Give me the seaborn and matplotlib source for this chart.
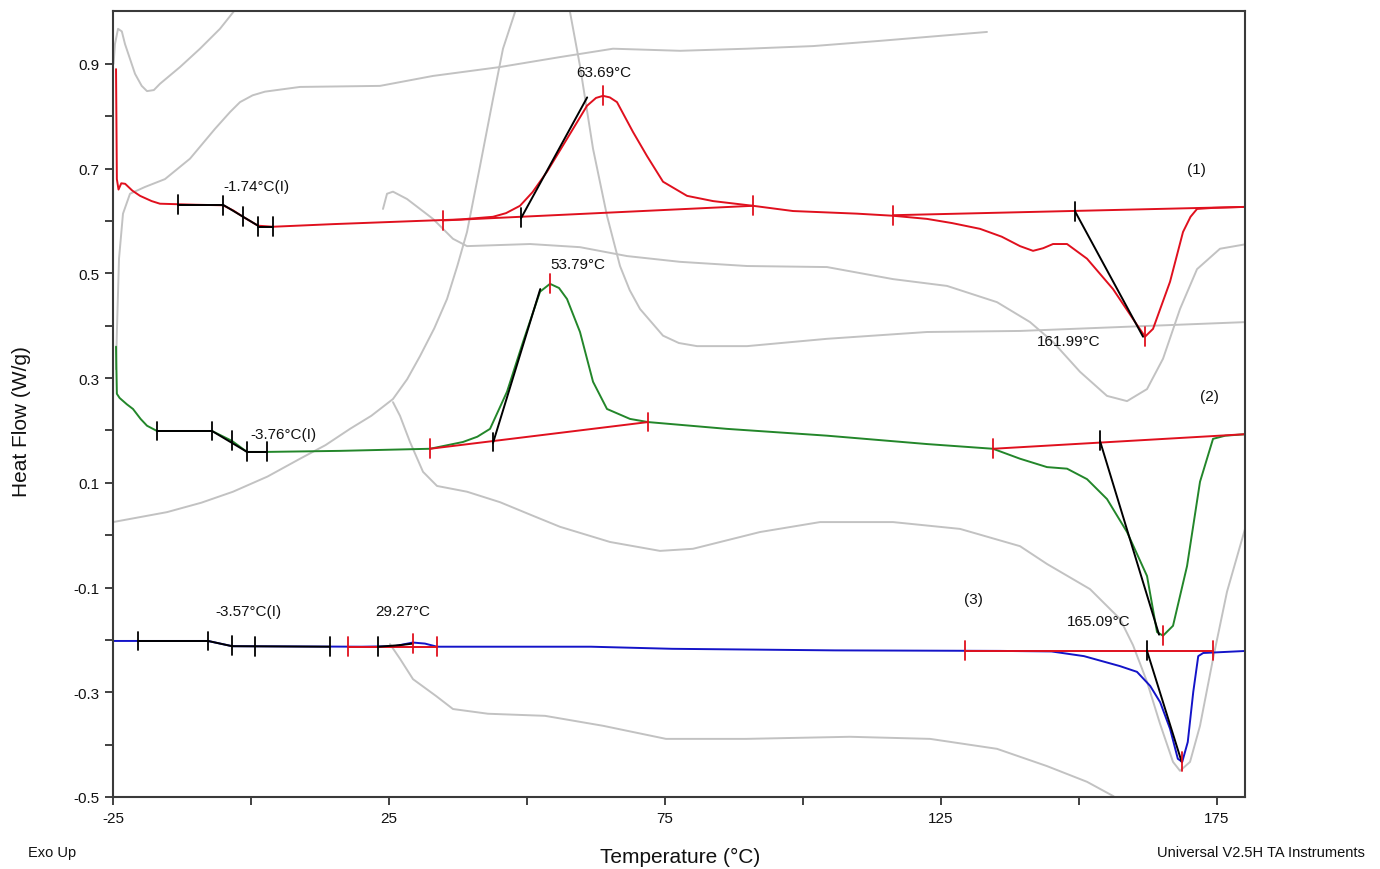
import numpy as np
import pandas as pd
import matplotlib
matplotlib.use("Agg")
import matplotlib.pyplot as plt
import seaborn as sns

# ---------------- data ----------------
# sample (1) - red
red_x = [-24.45, -24.3, -24.0, -23.5, -22.8, -21.5, -20.1, -18.0, -16.5, -10.0, -5.07, -3.2, -1.45,
         1.27, 3.99, 14.86, 30.07, 38.0, 43.84, 46.2, 48.73, 51.0, 53.62, 57.25, 60.87, 62.5, 63.77,
         65.0, 66.3, 69.2, 71.74, 74.64, 78.99, 83.7, 90.94, 98.19, 109.78, 116.3, 122.46, 127.0,
         132.07, 136.0, 139.31, 141.67, 143.5, 145.29, 147.83, 151.45, 156.16, 159.78, 161.96,
         163.41, 166.49, 168.84, 170.2, 171.38, 174.28, 180.4]
red_y = [0.89, 0.68, 0.66, 0.672, 0.671, 0.658, 0.648, 0.638, 0.633, 0.631, 0.630, 0.620, 0.608,
         0.591, 0.589, 0.594, 0.600, 0.603, 0.608, 0.615, 0.629, 0.655, 0.694, 0.757, 0.820, 0.835,
         0.839, 0.836, 0.827, 0.770, 0.724, 0.675, 0.648, 0.638, 0.629, 0.619, 0.614, 0.610, 0.604,
         0.596, 0.585, 0.570, 0.552, 0.543, 0.548, 0.556, 0.556, 0.528, 0.470, 0.413, 0.379,
         0.394, 0.484, 0.579, 0.608, 0.623, 0.625, 0.627]

# sample (2) - green
green_x = [-24.45, -24.3, -23.8, -22.5, -21.38, -20.0, -18.84, -17.03, -7.07, -3.44, -0.72, 2.9,
           16.12, 32.43, 38.41, 41.0, 43.3, 46.38, 49.28, 52.36, 54.17, 55.8, 57.25, 59.6, 61.96,
           64.49, 68.66, 71.92, 86.23, 104.35, 122.46, 134.42, 139.31, 144.2, 147.83, 151.45,
           155.07, 158.7, 162.32, 164.13, 165.22, 167.03, 169.57, 171.92, 174.28, 176.5, 180.4]
green_y = [0.36, 0.27, 0.262, 0.25, 0.241, 0.222, 0.209, 0.199, 0.199, 0.180, 0.159, 0.159,
           0.161, 0.165, 0.178, 0.188, 0.203, 0.274, 0.369, 0.465, 0.480, 0.472, 0.451, 0.388, 0.293,
           0.241, 0.222, 0.216, 0.203, 0.190, 0.174, 0.165, 0.146, 0.130, 0.127, 0.107,
           0.069, 0.006, -0.078, -0.185, -0.192, -0.173, -0.059, 0.102, 0.184, 0.190, 0.193]

# sample (3) - blue
blue_x = [-25.0, -7.8, -3.4, 20.0, 26.0, 29.3, 31.5, 33.7, 61.6, 76.3, 105.8, 135.7, 145.0,
          150.9, 157.4, 160.5, 162.9, 164.7, 166.5, 167.9, 168.7, 169.7, 170.7, 171.6, 172.5, 180.4]
blue_y = [-0.202, -0.202, -0.212, -0.213, -0.212, -0.205, -0.207, -0.213, -0.213, -0.217, -0.220,
          -0.221, -0.222, -0.231, -0.250, -0.261, -0.288, -0.319, -0.370, -0.427, -0.433, -0.395,
          -0.299, -0.231, -0.225, -0.221]

# background (grey) traces
gray_a_x = [-24.9, -24.64, -24.09, -23.4, -22.83, -21.01, -19.8, -18.84, -17.6, -16.49, -12.86,
            -9.24, -5.62, -2.0]
gray_a_y = [0.90, 0.938, 0.967, 0.962, 0.938, 0.881, 0.858, 0.848, 0.850, 0.862, 0.894,
            0.929, 0.967, 1.015]

gray_b_x = [-24.46, -24.28, -23.91, -23.19, -21.92, -19.2, -15.58, -11.05, -6.52, -3.8, -1.99,
            0.3, 2.54, 8.88, 23.37, 32.97, 45.11, 55.98, 65.58, 77.72, 89.86, 101.81, 113.95, 133.33]
gray_b_y = [0.317, 0.394, 0.528, 0.614, 0.652, 0.665, 0.680, 0.719, 0.776, 0.808, 0.827,
            0.840, 0.847, 0.856, 0.858, 0.877, 0.894, 0.913, 0.929, 0.925, 0.929, 0.934, 0.944, 0.961]

gray_c_x = [-25.0, -15.22, -9.0, -3.26, 3.0, 8.88, 13.5, 17.93, 21.8, 25.72, 28.3, 30.62, 33.2,
            35.51, 37.4, 39.13, 41.49, 43.84, 45.65, 47.83, 52.8, 57.79, 59.6, 61.96, 64.49, 66.85,
            68.6, 70.47, 74.64, 77.5, 80.8, 89.86, 104.35, 122.46, 139.31, 180.4]
gray_c_y = [0.025, 0.044, 0.062, 0.083, 0.112, 0.146, 0.172, 0.203, 0.228, 0.260, 0.298, 0.342,
            0.395, 0.451, 0.515, 0.579, 0.705, 0.833, 0.929, 0.999, 1.10, 0.999, 0.896, 0.738,
            0.610, 0.514, 0.468, 0.432, 0.381, 0.367, 0.361, 0.361, 0.375, 0.388, 0.390, 0.407]

gray_d_x = [23.91, 24.64, 25.72, 28.26, 32.97, 36.59, 39.13, 50.54, 59.6, 68.12, 77.72, 89.86,
            104.35, 116.3, 126.09, 135.14, 141.12, 145.29, 150.18, 155.07, 158.7, 162.32, 165.22,
            168.3, 171.38, 175.54, 180.43]
gray_d_y = [0.623, 0.652, 0.656, 0.642, 0.604, 0.566, 0.552, 0.556, 0.550, 0.533, 0.522, 0.514,
            0.512, 0.489, 0.476, 0.445, 0.407, 0.369, 0.312, 0.266, 0.256, 0.279, 0.337,
            0.432, 0.508, 0.547, 0.556]

gray_f_x = [25.72, 26.99, 28.8, 31.16, 33.7, 39.13, 45.11, 51.09, 55.98, 65.04, 74.09, 80.07,
            92.21, 103.08, 116.3, 128.44, 139.31, 144.2, 151.99, 157.43, 159.78, 162.32, 164.67,
            167.03, 168.3, 170.11, 171.92, 174.28, 176.81, 180.07]
gray_f_y = [0.254, 0.228, 0.178, 0.121, 0.094, 0.083, 0.063, 0.037, 0.016, -0.013, -0.030,
            -0.026, 0.006, 0.025, 0.025, 0.012, -0.021, -0.055, -0.103, -0.160, -0.210, -0.280,
            -0.360, -0.433, -0.450, -0.433, -0.364, -0.236, -0.108, 0.012]

gray_g_x = [25.18, 26.99, 29.35, 33.51, 36.59, 42.93, 53.26, 63.77, 75.18, 89.67, 108.51, 123.01,
            135.14, 144.2, 151.45, 156.16, 158.3]
gray_g_y = [-0.208, -0.236, -0.275, -0.307, -0.332, -0.341, -0.345, -0.364, -0.389, -0.389,
            -0.385, -0.389, -0.408, -0.441, -0.471, -0.498, -0.513]

# analysis construction lines (x0, y0, x1, y1)
black_segments = [(-13.3, 0.631, -5.07, 0.631), (-5.07, 0.631, 1.27, 0.591), (1.27, 0.589, 3.99, 0.589),
                  (48.9, 0.605, 60.9, 0.836), (149.3, 0.618, 161.6, 0.379),
                  (-17.03, 0.199, -7.07, 0.199), (-7.07, 0.199, -0.72, 0.159), (-0.72, 0.159, 2.9, 0.159),
                  (43.84, 0.176, 52.4, 0.47), (153.8, 0.180, 164.5, -0.19),
                  (-20.47, -0.202, -7.79, -0.202), (-7.79, -0.202, -3.44, -0.212),
                  (-3.44, -0.212, 14.31, -0.213), (23.01, -0.213, 27.0, -0.210),
                  (27.0, -0.210, 29.35, -0.207), (162.32, -0.221, 168.6, -0.433)]
red_segments = [(34.78, 0.601, 90.94, 0.629), (116.3, 0.611, 180.4, 0.627),
                (32.43, 0.165, 71.92, 0.216), (134.42, 0.165, 180.4, 0.193),
                (17.57, -0.213, 33.7, -0.213), (129.35, -0.221, 174.28, -0.221)]
black_ticks = [(-13.3, 0.631), (-5.07, 0.630), (-1.45, 0.609), (1.27, 0.590), (3.99, 0.589),
               (48.9, 0.606), (149.3, 0.618),
               (-17.03, 0.199), (-7.07, 0.199), (-3.44, 0.180), (-0.72, 0.159), (2.9, 0.159),
               (43.84, 0.178), (153.8, 0.181),
               (-20.47, -0.202), (-7.79, -0.202), (-3.44, -0.210), (0.72, -0.212), (14.31, -0.213),
               (23.01, -0.213), (162.32, -0.221)]
red_ticks = [(34.78, 0.601), (63.77, 0.839), (90.94, 0.629), (116.3, 0.611), (161.96, 0.379),
             (32.43, 0.165), (54.17, 0.480), (71.92, 0.216), (134.42, 0.165), (165.22, -0.192),
             (17.57, -0.213), (29.35, -0.207), (33.7, -0.213), (129.35, -0.221), (174.28, -0.221),
             (168.7, -0.433)]

annot_x = [58.9, -5.07, 54.2, -0.18, 142.4, 147.8, -6.5, 22.46, 169.6, 171.9, 129.2]
annot_y = [0.885, 0.667, 0.518, 0.193, 0.371, -0.164, -0.145, -0.145, 0.699, 0.266, -0.122]
annot_text = ["63.69°C", "-1.74°C(I)", "53.79°C", "-3.76°C(I)", "161.99°C", "165.09°C",
              "-3.57°C(I)", "29.27°C", "(1)", "(2)", "(3)"]

x_ticks = [-25, 25, 75, 125, 175]
x_minor = [0, 50, 100, 150]
y_ticks = [-0.5, -0.3, -0.1, 0.1, 0.3, 0.5, 0.7, 0.9]
y_tick_labels = ["-0.5", "-0.3", "-0.1", "0.1", "0.3", "0.5", "0.7", "0.9"]
y_minor = [-0.4, -0.2, 0.0, 0.2, 0.4, 0.6, 0.8]

# ---------------- styling ----------------
sns.set_theme(style="white")
plt.rcParams['font.family'] = ['Liberation Sans', 'DejaVu Sans']

RED = "#e0101e"
GREEN = "#23862a"
BLUE = "#1414c8"
GREY = "#c2c2c2"

fig = plt.figure(figsize=(13.8, 8.7), dpi=100)
ax = fig.add_axes([113 / 1380, 72 / 870, 1132 / 1380, 786 / 870])


def frame(name, xs, ys):
    return pd.DataFrame({"T": xs, "HF": ys, "curve": name})


gray_df = pd.concat([frame("a", gray_a_x, gray_a_y), frame("b", gray_b_x, gray_b_y),
                     frame("c", gray_c_x, gray_c_y), frame("d", gray_d_x, gray_d_y),
                     frame("f", gray_f_x, gray_f_y), frame("g", gray_g_x, gray_g_y)],
                    ignore_index=True)
sns.lineplot(data=gray_df, x="T", y="HF", hue="curve",
             palette={k: GREY for k in "abcdfg"}, sort=False, estimator=None,
             legend=False, lw=1.4, ax=ax)

col_df = pd.concat([frame("(1)", red_x, red_y), frame("(2)", green_x, green_y),
                    frame("(3)", blue_x, blue_y)], ignore_index=True)
sns.lineplot(data=col_df, x="T", y="HF", hue="curve",
             palette={"(1)": RED, "(2)": GREEN, "(3)": BLUE}, sort=False, estimator=None,
             legend=False, lw=1.4, ax=ax)

for (x0, y0, x1, y1) in red_segments:
    ax.plot([x0, x1], [y0, y1], color=RED, lw=1.4)
for (x0, y0, x1, y1) in black_segments:
    ax.plot([x0, x1], [y0, y1], color="black", lw=1.4)
th = 0.018
for (x, y) in red_ticks:
    ax.plot([x, x], [y - th, y + th], color=RED, lw=1.3)
for (x, y) in black_ticks:
    ax.plot([x, x], [y - th, y + th], color="black", lw=1.3)

for x, y, t in zip(annot_x, annot_y, annot_text):
    ax.text(x, y, t, fontsize=11, color="#111111", ha="left", va="center")

ax.set_xlim(-25, 180.07)
ax.set_ylim(-0.5, 1.001)
ax.set_xticks(x_ticks)
ax.set_xticklabels([str(v) for v in x_ticks])
ax.set_xticks(x_minor, minor=True)
ax.set_yticks(y_ticks)
ax.set_yticklabels(y_tick_labels)
ax.set_yticks(y_minor, minor=True)
ax.tick_params(which="both", direction="out", length=6, width=1.3, color="#333333",
               bottom=True, left=True, top=False, right=False, labelsize=11,
               labelcolor="#111111", pad=4)
ax.set_xlabel("")
ax.set_ylabel("")
for s in ax.spines.values():
    s.set_visible(True)
    s.set_color("#3a3a3a")
    s.set_linewidth(1.5)

fig.text(22 / 1380, 1 - 422 / 870, "Heat Flow (W/g)", rotation=90, ha="center", va="center",
         fontsize=15, color="#111111")
fig.text(680 / 1380, 1 - 857 / 870, "Temperature (°C)", ha="center", va="center",
         fontsize=15, color="#111111")
fig.text(28 / 1380, 1 - 853 / 870, "Exo Up", ha="left", va="center", fontsize=10.5,
         color="#111111")
fig.text(1365 / 1380, 1 - 853 / 870, "Universal V2.5H TA Instruments", ha="right", va="center",
         fontsize=10.5, color="#111111")

fig.savefig("out.png", dpi=100)
